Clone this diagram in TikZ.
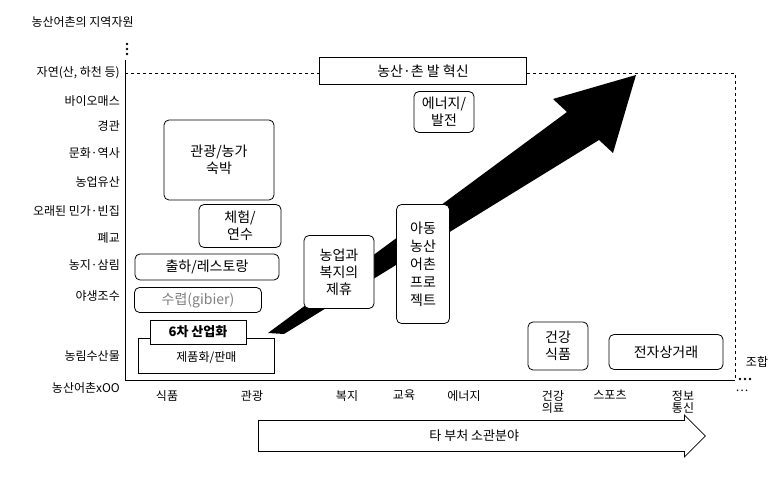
\documentclass[tikz,border=0pt]{standalone}
\usepackage{fontspec}
\setmainfont{Noto Sans CJK KR}
\usetikzlibrary{shapes.arrows}
\tikzstyle{res} = [rounded corners=5pt, draw=black, thick, fill=white, align=center, font=\fontsize{14}{17}\selectfont, inner sep=2pt]
\tikzstyle{lbl} = [anchor=east, font=\fontsize{12}{13}\selectfont, inner sep=1pt]
\tikzstyle{cat} = [font=\fontsize{12}{12}\selectfont, align=center, inner sep=1pt]
\begin{document}
\begin{tikzpicture}[x=1pt, y=-1pt]
\useasboundingbox (0,0) rectangle (780,486);
% axes
\coordinate (o) at (125,380);
\draw [thick] (125,60) -- (o) -- (735,380);
\draw [thick, dashed] (125,73) -- (735,73) -- (735,380);
\foreach \y in {44,49,54} \fill (127,\y) circle (1.3);
\foreach \x in {740,745,750} \fill (\x,379) circle (1.3);
\node [anchor=west, font=\fontsize{12}{13}\selectfont] (title) at (28,22) {농산어촌의 지역자원};
% resources
\node [lbl] (r1) at (121,73) {자연(산, 하천 등)};
\node [lbl] (r2) at (121,101) {바이오매스};
\node [lbl] (r3) at (121,126) {경관};
\node [lbl] (r4) at (121,153) {문화·역사};
\node [lbl] (r5) at (121,182) {농업유산};
\node [lbl] (r6) at (121,211) {오래된 민가·빈집};
\node [lbl] (r7) at (121,238) {폐교};
\node [lbl] (r8) at (121,265) {농지·삼림};
\node [lbl] (r9) at (121,296) {야생조수};
\node [lbl] (r10) at (121,356) {농림수산물};
\node [lbl] (r11) at (121,388) {농산어촌xOO};
% fields
\node [cat, anchor=north] (c1) at (167,389) {식품};
\node [cat, anchor=north] (c2) at (252,389) {관광};
\node [cat, anchor=north] (c3) at (347,389) {복지};
\node [cat, anchor=north] (c4) at (404,389) {교육};
\node [cat, anchor=north] (c5) at (464,389) {에너지};
\node [cat, anchor=north] (c6) at (553,389) {건강\\의료};
\node [cat, anchor=north] (c7) at (610,389) {스포츠};
\node [cat, anchor=north] (c8) at (683,389) {정보\\통신};
\node [cat, anchor=north] (c9) at (742,389) {…};
\node [cat] (mix) at (757,362) {조합};
% main arrow
\fill (268,333) -- (567,112) -- (553,99) -- (636,75) -- (613,153) -- (599,140) -- (284,334) -- cycle;
% projects
\node [res, rounded corners=0pt, minimum width=207, minimum height=27] (inno) at (423,71) {농산·촌 발 혁신};
\node [res, minimum width=60, minimum height=41] (energy) at (444,112) {에너지/\\발전};
\node [res, minimum width=110, minimum height=80] (tour) at (219,160) {관광/농가\\숙박};
\node [res, minimum width=82, minimum height=43] (exp) at (240,226) {체험/\\연수};
\node [res, minimum width=144, minimum height=26] (ship) at (207,267) {출하/레스토랑};
\node [res, minimum width=127, minimum height=25, text=gray] (hunt) at (198,300) {수렵(gibier)};
\node [res, minimum width=70, minimum height=73] (welf) at (339,272) {농업과\\복지의\\제휴};
\node [res, minimum width=53, minimum height=119, font=\fontsize{14}{18}\selectfont] (kids) at (423,264) {아동\\농산\\어촌\\프로\\젝트};
\node [res, minimum width=60, minimum height=48] (health) at (558,346) {건강\\식품};
\node [res, minimum width=114, minimum height=35] (ecom) at (666,352) {전자상거래};
\node [draw, thick, fill=white, minimum width=136, minimum height=35, font=\fontsize{12}{14}\selectfont, inner sep=3pt, anchor=north west, text height=8pt] (sell) at (138,338) {\raisebox{-6pt}{제품화/판매}};
\node [draw, thick, fill=white, minimum width=96, minimum height=24, font=\bfseries\fontsize{13}{15}\selectfont, inner sep=1pt] (six) at (198,332) {6차 산업화};
% other ministries
\node [draw, thick, single arrow, single arrow head extend=3pt, minimum height=447, minimum width=42, single arrow tip angle=90, anchor=tail, font=\fontsize{13}{15}\selectfont, inner sep=2pt] (other) at (258,436) {타 부처 소관분야};
\end{tikzpicture}
\end{document}
